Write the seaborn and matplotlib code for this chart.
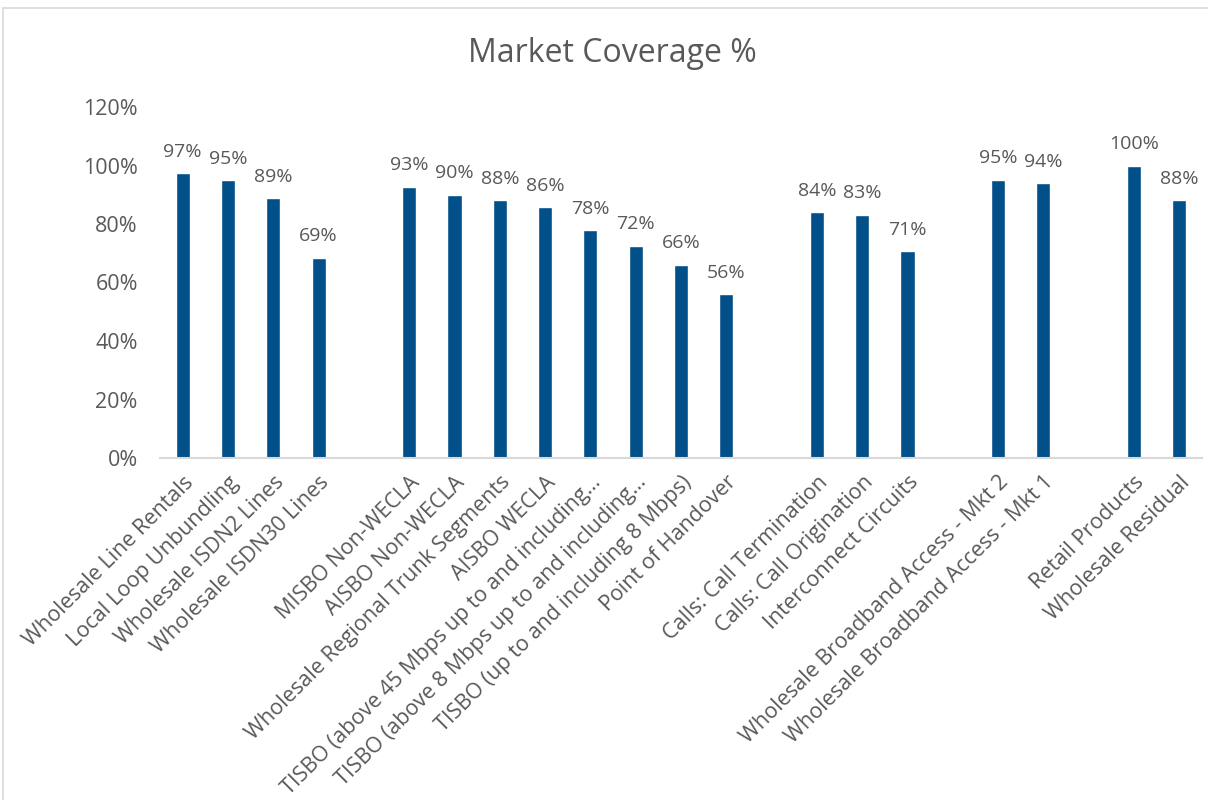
import matplotlib
matplotlib.use("Agg")
import matplotlib.pyplot as plt
import seaborn as sns
import pandas as pd
from matplotlib.lines import Line2D
from matplotlib.ticker import FuncFormatter, MultipleLocator

categories = [
    "Wholesale Line Rentals", "Local Loop Unbundling", "Wholesale ISDN2 Lines", "Wholesale ISDN30 Lines",
    "MISBO Non-WECLA", "AISBO Non-WECLA", "Wholesale Regional Trunk Segments", "AISBO WECLA",
    "TISBO (above 45 Mbps up to and including\u2026", "TISBO (above 8 Mbps up to and including\u2026",
    "TISBO (up to and including 8 Mbps)", "Point of Handover",
    "Calls: Call Termination", "Calls: Call Origination", "Interconnect Circuits",
    "Wholesale Broadband Access - Mkt 2", "Wholesale Broadband Access - Mkt 1",
    "Retail Products", "Wholesale Residual",
]
values = [0.974, 0.95, 0.888, 0.685,
          0.928, 0.90, 0.882, 0.858, 0.778, 0.725, 0.66, 0.56,
          0.84, 0.832, 0.706,
          0.952, 0.94,
          1.0, 0.882]
labels = ["97%", "95%", "89%", "69%",
          "93%", "90%", "88%", "86%", "78%", "72%", "66%", "56%",
          "84%", "83%", "71%",
          "95%", "94%",
          "100%", "88%"]
group_sizes = [4, 8, 3, 2, 2]

# order with blank gap slots between groups
order = []
tick_text = []
idx = 0
for g, n in enumerate(group_sizes):
    for _ in range(n):
        order.append(categories[idx])
        tick_text.append(categories[idx])
        idx += 1
    if g < len(group_sizes) - 1:
        order.append(" " * (g + 1))
        tick_text.append("")

df = pd.DataFrame({"category": categories, "value": values})

sns.set_theme(style="white")
plt.rcParams['font.family'] = ['Open Sans', 'DejaVu Sans']

fig = plt.figure(figsize=(12.08, 8.0), dpi=100)
ax = fig.add_axes([160/1208, 1 - 458/800, (1202-160)/1208, (458-107)/800])

bar_color = "#02508A"
text_color = "#595959"
sns.barplot(data=df, x="category", y="value", order=order, color=bar_color,
            width=0.31, saturation=1, ax=ax, errorbar=None)

for c in ax.containers:
    ax.bar_label(c, labels=labels, padding=9, fontsize=14, color=text_color)

ax.set_ylim(0, 1.2)
ax.yaxis.set_major_locator(MultipleLocator(0.2))
ax.yaxis.set_major_formatter(FuncFormatter(lambda v, p: f"{v*100:.0f}%"))
ax.set_xlim(-0.5, len(order) - 0.5)
ax.set_xticks(range(len(order)))
ax.set_xticklabels(tick_text, rotation=45, ha="right", rotation_mode="anchor",
                   fontsize=15.5, color=text_color)
ax.tick_params(axis="y", labelsize=15.5, labelcolor=text_color, length=0, pad=16)
ax.tick_params(axis="x", length=0, pad=10)
ax.set_xlabel("")
ax.set_ylabel("")
for s in ["top", "right", "left"]:
    ax.spines[s].set_visible(False)
ax.spines["bottom"].set_color("#D9D9D9")
ax.spines["bottom"].set_linewidth(1.5)
ax.grid(False)

fig.text(612/1208, 1 - 54/800, "Market Coverage %", ha="center", va="center",
         fontsize=23, color=text_color)

# chart border
fig.add_artist(Line2D([3/1208, 1.0], [1 - 8/800, 1 - 8/800], color="#D9D9D9", lw=1.2,
                      transform=fig.transFigure))
fig.add_artist(Line2D([3/1208, 3/1208], [0, 1 - 8/800], color="#D9D9D9", lw=1.2,
                      transform=fig.transFigure))

fig.savefig("out.png", dpi=100, facecolor="white")
